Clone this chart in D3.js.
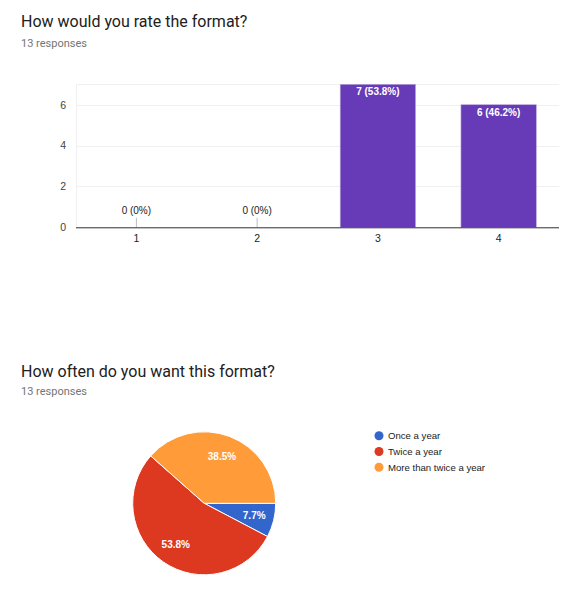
<!DOCTYPE html>
<html><head><meta charset="utf-8">
<script src="https://cdn.jsdelivr.net/npm/d3@7"></script>
<style>body{margin:0;background:#fff}</style>
</head><body>
<svg id="c" width="587" height="600"></svg>
<script>
const barCategories = ["1", "2", "3", "4"];
const barValues = [0, 0, 7, 6];
const barLabels = ["0 (0%)", "0 (0%)", "7 (53.8%)", "6 (46.2%)"];
const yTicks = [0, 2, 4, 6];
const pieCategories = ["Once a year", "Twice a year", "More than twice a year"];
const pieValues = [1, 7, 5];
const pieLabels = ["7.7%", "53.8%", "38.5%"];
const pieColors = ["#3366cc", "#dc3920", "#ff9b38"];
const titles = ["How would you rate the format?", "How often do you want this format?"];
const subtitles = ["13 responses", "13 responses"];

const svg = d3.select("#c");
const titleFont = "Roboto, Arial, sans-serif";
const chartFont = "'Liberation Sans', Arial, sans-serif";

// Titles
[[26.5, 46.5], [376.5, 395]].forEach(([ty, sy], i) => {
  svg.append("text").attr("x", 21).attr("y", ty).attr("font-family", titleFont)
    .attr("font-size", 16).attr("fill", "#212121").text(titles[i]);
  svg.append("text").attr("x", 21).attr("y", sy).attr("font-family", titleFont)
    .attr("font-size", 11).attr("fill", "#757575").text(subtitles[i]);
});

// Bar chart
const x = d3.scaleBand().domain(barCategories).range([76, 559]).paddingInner(0.376).paddingOuter(0.188);
const y = d3.scaleLinear().domain([0, 7]).range([227.3, 84.3]);
const g = svg.append("g");
// grid
g.selectAll("line.grid").data(yTicks.concat([7])).join("line")
  .attr("x1", 76).attr("x2", 559).attr("y1", d => Math.round(y(d)) + 0.5).attr("y2", d => Math.round(y(d)) + 0.5)
  .attr("stroke", "#f0f0f0").attr("stroke-width", 1);
g.append("line").attr("x1", 76.5).attr("x2", 76.5).attr("y1", y(7)).attr("y2", y(0)).attr("stroke", "#f0f0f0");
// y axis labels
const yAxis = d3.axisLeft(y).tickValues(yTicks).tickSize(0).tickPadding(10).tickFormat(d3.format("d"));
const ya = g.append("g").attr("transform", "translate(76,0)").call(yAxis);
ya.select(".domain").remove();
ya.selectAll("text").attr("font-family", chartFont).attr("font-size", 10.5).attr("fill", "#444");
// bars
g.selectAll("rect.bar").data(barValues).join("rect")
  .attr("x", (d, i) => x(barCategories[i])).attr("width", x.bandwidth())
  .attr("y", d => y(d)).attr("height", d => y(0) - y(d))
  .attr("fill", "#673ab7").attr("stroke", "#b9a6dc").attr("stroke-width", 0.6);
// zero markers
barValues.forEach((d, i) => {
  const cx = x(barCategories[i]) + x.bandwidth() / 2;
  if (d === 0) {
    g.append("line").attr("x1", cx).attr("x2", cx).attr("y1", y(0) - 9.5).attr("y2", y(0))
      .attr("stroke", "#bbb").attr("stroke-width", 1);
    g.append("text").attr("x", cx).attr("y", y(0) - 13).attr("text-anchor", "middle")
      .attr("font-family", chartFont).attr("font-size", 10).attr("fill", "#222").text(barLabels[i]);
  } else {
    g.append("text").attr("x", cx).attr("y", y(d) + 11).attr("text-anchor", "middle")
      .attr("font-family", chartFont).attr("font-size", 10).attr("font-weight", "bold")
      .attr("fill", "#fff").text(barLabels[i]);
  }
});
// baseline
g.append("line").attr("x1", 76).attr("x2", 559).attr("y1", y(0) + 0.5).attr("y2", y(0) + 0.5)
  .attr("stroke", "#333").attr("stroke-width", 1);
// x axis labels
const xAxis = d3.axisBottom(x).tickSize(0).tickPadding(7);
const xa = g.append("g").attr("transform", `translate(0,${y(0)})`).call(xAxis);
xa.select(".domain").remove();
xa.selectAll("text").attr("font-family", chartFont).attr("font-size", 10.5).attr("fill", "#222");

// Pie chart
const cx = 204.2, cy = 503.3, r = 71.5;
const pie = d3.pie().sort(null).startAngle(Math.PI / 2).endAngle(Math.PI / 2 + 2 * Math.PI);
const arcs = pie(pieValues);
const arc = d3.arc().innerRadius(0).outerRadius(r);
const pg = svg.append("g").attr("transform", `translate(${cx},${cy})`);
pg.selectAll("path").data(arcs).join("path").attr("d", arc)
  .attr("fill", (d, i) => pieColors[i]).attr("stroke", "#fff").attr("stroke-width", 1);
const labelArc = d3.arc().innerRadius(r * 0.7).outerRadius(r * 0.7);
pg.selectAll("text").data(arcs).join("text")
  .attr("transform", (d, i) => {
    let [lx, ly] = labelArc.centroid(d);
    if (i === 0) { const a = d3.arc().innerRadius(r * 0.72).outerRadius(r * 0.72); [lx, ly] = a.centroid(d); }
    return `translate(${lx},${ly})`;
  })
  .attr("text-anchor", "middle").attr("dy", "0.35em")
  .attr("font-family", chartFont).attr("font-size", 10).attr("font-weight", "bold")
  .attr("fill", "#fff").text((d, i) => pieLabels[i]);

// Legend
const lg = svg.append("g");
pieCategories.forEach((c, i) => {
  const ly = 435.7 + i * 15.8;
  lg.append("circle").attr("cx", 379).attr("cy", ly).attr("r", 4.5).attr("fill", pieColors[i]);
  lg.append("text").attr("x", 388).attr("y", ly).attr("dy", "0.35em")
    .attr("font-family", chartFont).attr("font-size", 9.6).attr("fill", "#222").text(c);
});
</script>
</body></html>
